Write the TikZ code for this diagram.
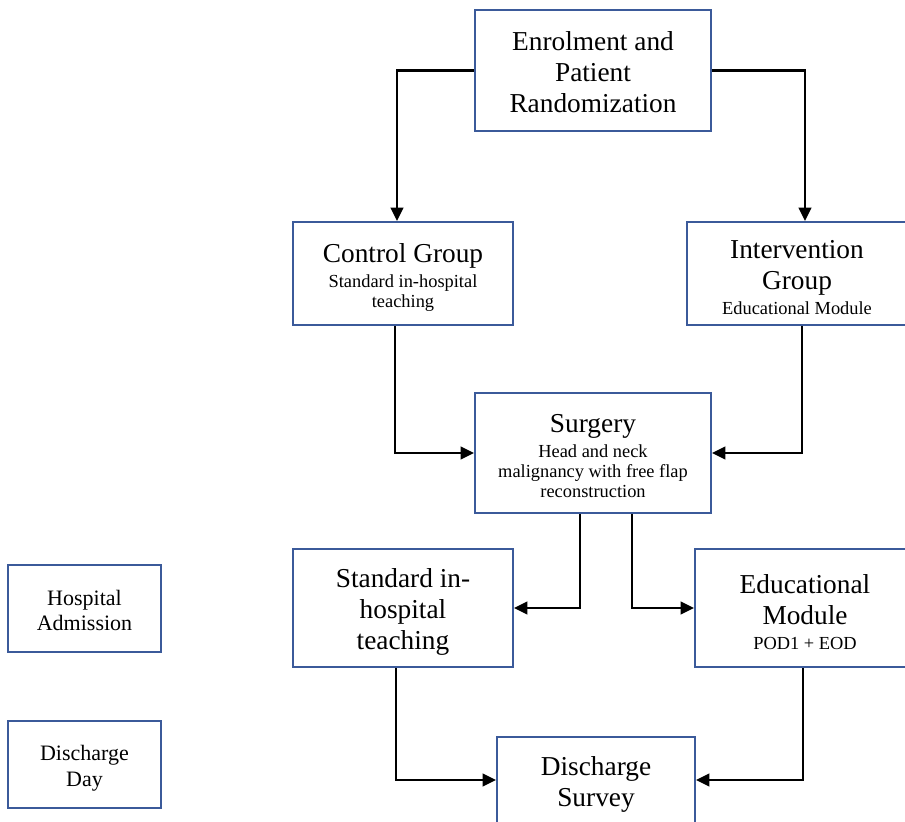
\documentclass[tikz,border=0pt]{standalone}
\usepackage{fontspec}
\setmainfont{Liberation Serif}
\usetikzlibrary{arrows.meta}
\definecolor{boxblue}{HTML}{3B5A9A}
\newcommand{\bigf}{\fontsize{20.5}{23.25}\selectfont}
\newcommand{\smallf}{\fontsize{13.8}{15.75}\selectfont}
\newcommand{\midf}{\fontsize{16.5}{18.75}\selectfont}
\begin{document}
\begin{tikzpicture}[x=0.75pt,y=-0.75pt,
  box/.style={draw=boxblue,line width=1.5pt,fill=white,inner sep=0pt},
  txt/.style={inner sep=0pt,align=center,font=\bigf},
  conn/.style={draw=black,line width=1.6pt,-{Triangle[length=10pt,width=9.5pt]}}]
\useasboundingbox (0,0) rectangle (905,821);
\clip (0,0) rectangle (905,821);
\node[box,minimum width=177pt,minimum height=90.75pt] (enrol) at (593,70.5) {};
\node[txt] (enrolt) at ([yshift=-1.5pt]enrol.center) {Enrolment and\\Patient\\Randomization};
\node[box,minimum width=165pt,minimum height=77.25pt] (control) at (403,273.5) {};
\node[txt] (controlt) at ([yshift=-3pt]control.center) {Control Group\\[-5pt]{\smallf Standard in-hospital}\\[-8.2pt]{\smallf teaching}};
\node[box,minimum width=165pt,minimum height=77.25pt] (interv) at (797,273.5) {};
\node[txt] (intervt) at ([yshift=-3pt]interv.center) {Intervention\\Group\\[-4.5pt]{\smallf Educational Module}};
\node[box,minimum width=177pt,minimum height=90pt] (surgery) at (593,453) {};
\node[txt] (surgeryt) at ([yshift=-2.6pt]surgery.center) {Surgery\\[-5pt]{\smallf Head and neck}\\[-8pt]{\smallf malignancy with free flap}\\[-8pt]{\smallf reconstruction}};
\node[box,minimum width=165pt,minimum height=88.5pt] (standard) at (403,608) {};
\node[txt] (standardt) at ([yshift=-3.2pt]standard.center) {Standard in-\\hospital\\teaching};
\node[box,minimum width=165pt,minimum height=88.5pt] (edu) at (805,608) {};
\node[txt] (edut) at ([yshift=-3pt]edu.center) {Educational\\Module\\[-4.5pt]{\smallf POD1 + EOD}};
\node[box,minimum width=114.75pt,minimum height=65.25pt] (admit) at (84.5,608.5) {};
\node[txt,font=\midf] (admitt) at ([yshift=-1.5pt]admit.center) {Hospital\\Admission};
\node[box,minimum width=114.75pt,minimum height=65.25pt] (dday) at (84.5,764.5) {};
\node[txt,font=\midf] (ddayt) at ([yshift=-2.6pt]dday.center) {Discharge\\[1pt]Day};
\node[box,minimum width=148.5pt,minimum height=64.5pt] (survey) at (596,780) {};
\node[txt] (surveyt) at ([yshift=-3pt]survey.center) {Discharge\\Survey};
\draw[conn] (enrol.west) -| ([xshift=-4.5pt]control.north);
\draw[conn] (enrol.east) -| ([xshift=6pt]interv.north);
\draw[conn] ([xshift=-6pt]control.south) |- (surgery.west);
\draw[conn] ([xshift=3.75pt]interv.south) |- (surgery.east);
\draw[conn] ([xshift=-9.75pt]surgery.south) |- (standard.east);
\draw[conn] ([xshift=29.25pt]surgery.south) |- (edu.west);
\draw[conn] ([xshift=-5.25pt]standard.south) |- (survey.west);
\draw[conn] ([xshift=-1.5pt]edu.south) |- (survey.east);
\end{tikzpicture}
\end{document}
